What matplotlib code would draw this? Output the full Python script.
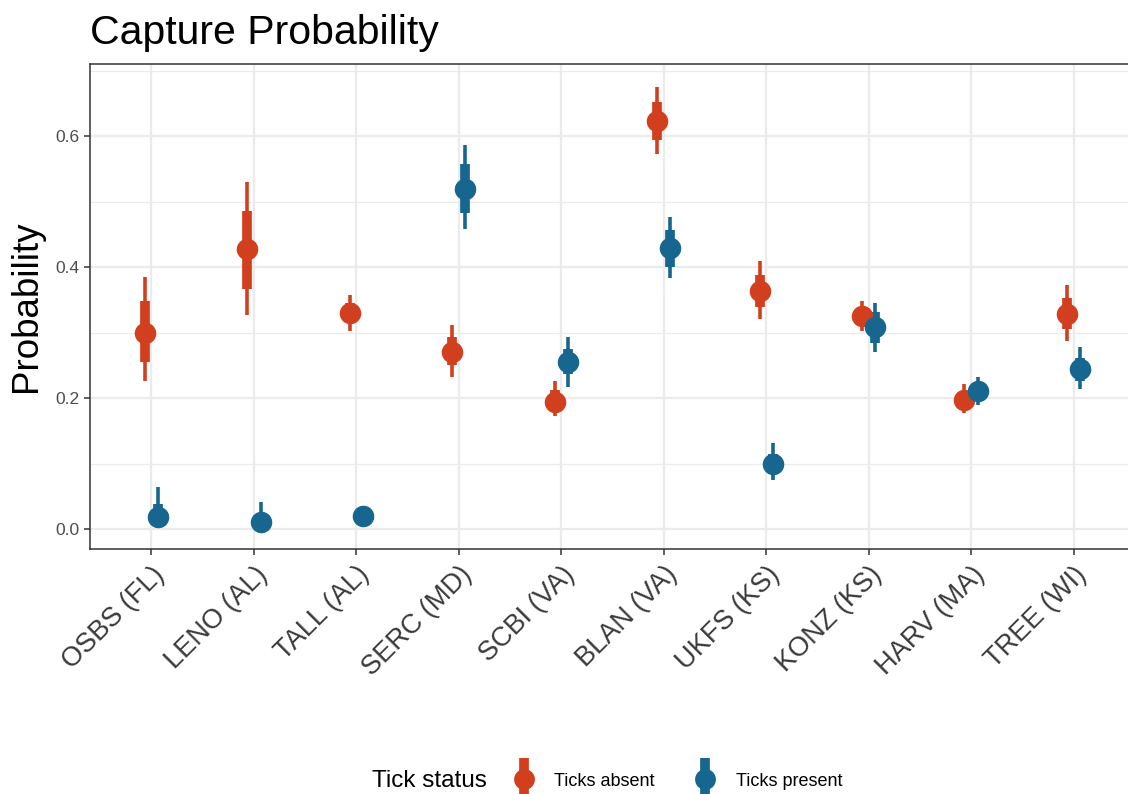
import numpy as np
import matplotlib
matplotlib.use('Agg')
import matplotlib.pyplot as plt
from matplotlib.lines import Line2D
from matplotlib.legend_handler import HandlerTuple
from matplotlib.ticker import MultipleLocator

plt.rcParams['font.family'] = ['Liberation Sans', 'DejaVu Sans']

sites = ['OSBS (FL)', 'LENO (AL)', 'TALL (AL)', 'SERC (MD)', 'SCBI (VA)',
         'BLAN (VA)', 'UKFS (KS)', 'KONZ (KS)', 'HARV (MA)', 'TREE (WI)']

# Ticks absent: median, 66% and 95% intervals
absent_mid = [0.300, 0.427, 0.330, 0.271, 0.195, 0.623, 0.364, 0.325, 0.198, 0.328]
absent_lo66 = [0.255, 0.367, 0.316, 0.250, 0.183, 0.594, 0.339, 0.312, 0.187, 0.305]
absent_hi66 = [0.348, 0.486, 0.345, 0.294, 0.212, 0.652, 0.388, 0.338, 0.210, 0.353]
absent_lo95 = [0.227, 0.327, 0.302, 0.233, 0.173, 0.573, 0.321, 0.302, 0.178, 0.288]
absent_hi95 = [0.385, 0.530, 0.358, 0.312, 0.226, 0.675, 0.410, 0.349, 0.222, 0.373]

# Ticks present
present_mid = [0.019, 0.011, 0.020, 0.519, 0.255, 0.429, 0.099, 0.308, 0.211, 0.244]
present_lo66 = [0.008, 0.004, 0.014, 0.482, 0.237, 0.401, 0.085, 0.285, 0.200, 0.227]
present_hi66 = [0.038, 0.025, 0.027, 0.558, 0.275, 0.456, 0.115, 0.331, 0.222, 0.261]
present_lo95 = [0.003, 0.001, 0.010, 0.459, 0.217, 0.383, 0.075, 0.270, 0.190, 0.214]
present_hi95 = [0.065, 0.042, 0.032, 0.586, 0.294, 0.477, 0.131, 0.346, 0.233, 0.278]

red = '#D23F1F'
blue = '#17668F'
dodge = 0.065

fig = plt.figure(figsize=(11.28, 7.94), dpi=100)
W, H = 1128, 794
ax = fig.add_axes([90 / W, 1 - 549 / H, (1135 - 90) / W, (549 - 64) / H])

x = np.arange(len(sites))
groups = [
    (x - dodge, absent_mid, absent_lo66, absent_hi66, absent_lo95, absent_hi95, red),
    (x + dodge, present_mid, present_lo66, present_hi66, present_lo95, present_hi95, blue),
]
for xs, mid, lo66, hi66, lo95, hi95, col in groups:
    ax.vlines(xs, lo95, hi95, color=col, linewidth=2.6, capstyle='butt', zorder=3)
    ax.vlines(xs, lo66, hi66, color=col, linewidth=7, capstyle='butt', zorder=3)
    ax.plot(xs, mid, 'o', color=col, markersize=15.5, markeredgewidth=0, zorder=4)

ax.set_xlim(-0.6, len(sites) - 0.4)
ax.set_ylim(-0.03, 0.71)
ax.set_xticks(x)
ax.set_xticklabels(sites, rotation=45, ha='right', va='top',
                   rotation_mode='anchor', fontsize=19.5, color='#3A3A3A')
ax.set_yticks([0.0, 0.2, 0.4, 0.6])
ax.set_yticklabels(['0.0', '0.2', '0.4', '0.6'], fontsize=12.5, color='#4D4D4D')
ax.yaxis.set_minor_locator(MultipleLocator(0.1))
ax.tick_params(axis='both', which='major', length=4, width=1.1, color='#333333')
ax.tick_params(axis='x', pad=5)
ax.tick_params(axis='y', which='minor', length=0)

ax.grid(True, which='major', color='#EBEBEB', linewidth=1.6, zorder=0)
ax.grid(True, which='minor', axis='y', color='#EBEBEB', linewidth=0.9, zorder=0)
ax.set_axisbelow(True)
for sp in ax.spines.values():
    sp.set_color('#333333')
    sp.set_linewidth(1.1)

ax.set_ylabel('Probability', fontsize=26.5, labelpad=8)
fig.text(90 / W, 1 - 33 / H, 'Capture Probability', fontsize=29.5,
         ha='left', va='center')

# legend at the bottom
fig.text(372 / W, 1 - 781 / H, 'Tick status', fontsize=17.5, ha='left', va='center')
h_abs = (Line2D([], [], marker='|', color=red, markersize=30, markeredgewidth=7, linestyle='none'),
         Line2D([], [], marker='o', color=red, markersize=15, markeredgewidth=0, linestyle='none'))
h_pre = (Line2D([], [], marker='|', color=blue, markersize=30, markeredgewidth=7, linestyle='none'),
         Line2D([], [], marker='o', color=blue, markersize=15, markeredgewidth=0, linestyle='none'))
fig.legend([h_abs, h_pre], ['Ticks absent', 'Ticks present'],
           handler_map={tuple: HandlerTuple(ndivide=1)},
           loc='center left', bbox_to_anchor=(502 / W, 1 - 781 / H),
           ncol=2, frameon=False, fontsize=13, handlelength=1.6,
           handletextpad=0.9, columnspacing=2.0, borderaxespad=0)

fig.savefig('out.png', dpi=100)
